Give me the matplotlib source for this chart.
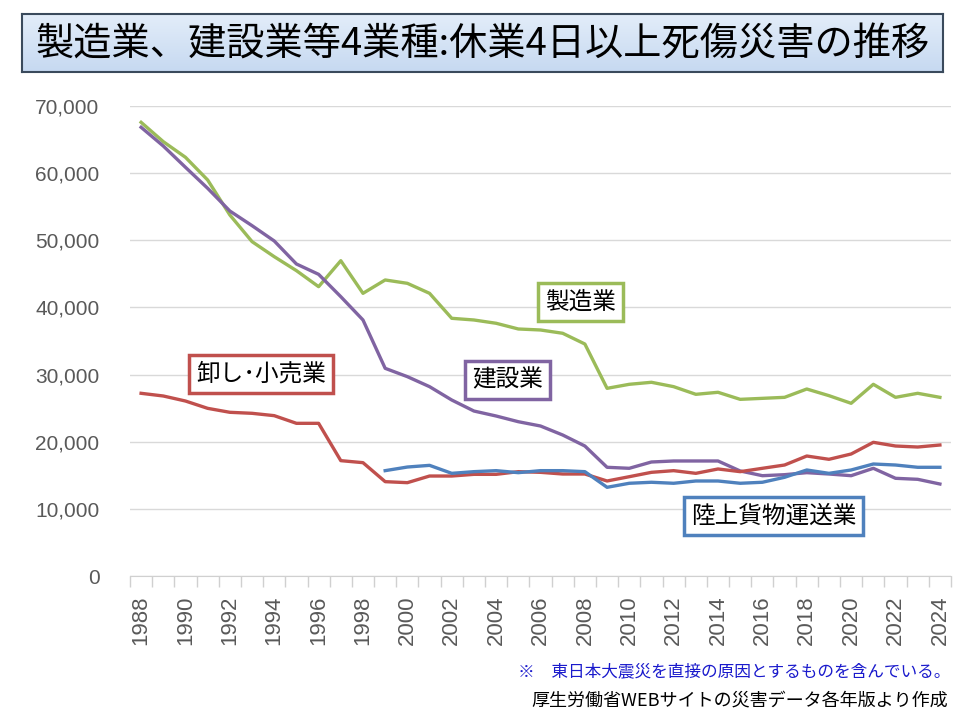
import matplotlib
matplotlib.use("Agg")
import matplotlib.pyplot as plt
import numpy as np
from matplotlib.ticker import FuncFormatter, FixedLocator
from matplotlib.colors import LinearSegmentedColormap

plt.rcParams['font.family'] = ['Noto Sans CJK JP', 'DejaVu Sans']

years = list(range(1988, 2025))
manufacturing = [67570, 64690, 62360, 58980, 53770, 49800, 47560, 45480, 43090, 46960,
                 42100, 44090, 43590, 42100, 38380, 38130, 37640, 36790, 36640, 36150,
                 34550, 27950, 28550, 28850, 28200, 27060, 27360, 26310, 26460, 26610,
                 27850, 26860, 25720, 28550, 26610, 27210, 26610]
construction = [66830, 64040, 60870, 57740, 54360, 52180, 49900, 46470, 44930, 41600,
                38130, 30930, 29690, 28200, 26210, 24570, 23830, 22980, 22340, 21000,
                19360, 16190, 16040, 16980, 17130, 17130, 17130, 15640, 14940, 15090,
                15390, 15190, 14940, 16040, 14550, 14400, 13700]
retail = [27210, 26810, 26060, 24970, 24380, 24230, 23880, 22740, 22740, 17180,
          16880, 14050, 13900, 14890, 14890, 15140, 15140, 15540, 15440, 15190,
          15190, 14150, 14790, 15440, 15690, 15290, 15940, 15540, 16040, 16530,
          17870, 17380, 18170, 19910, 19360, 19210, 19510]
transport = [np.nan] * 11 + [15690, 16230, 16480, 15290, 15540, 15690, 15390, 15690, 15690,
                             15540, 13210, 13810, 13960, 13810, 14150, 14150, 13810, 13960,
                             14700, 15790, 15290, 15790, 16680, 16530, 16190, 16190]

series_names = ['製造業', '建設業', '卸し･小売業', '陸上貨物運送業']
colors = ['#9bbb59', '#8064a2', '#c0504d', '#4f81bd']
title = '製造業、建設業等4業種:休業4日以上死傷災害の推移'
note1 = '※　東日本大震災を直接の原因とするものを含んでいる。'
note2 = '厚生労働省WEBサイトの災害データ各年版より作成'

fig = plt.figure(figsize=(9.6, 7.2), dpi=100)

# title box with gradient
tax = fig.add_axes([22/960, 1-72/720, 921/960, 58/720])
grad = np.linspace(0, 1, 100).reshape(-1, 1)
cmap = LinearSegmentedColormap.from_list('g', ['#e3edf9', '#c6d9f1'])
tax.imshow(grad, aspect='auto', cmap=cmap, extent=[0, 1, 0, 1], origin='upper')
tax.set_xlim(0, 1); tax.set_ylim(0, 1)
tax.set_xticks([]); tax.set_yticks([])
for s in tax.spines.values():
    s.set_color('#3a4a5c'); s.set_linewidth(1.5)
tax.text(0.5, 0.47, title, ha='center', va='center', fontsize=27.5, color='black')

ax = fig.add_axes([130/960, 0.2, 821/960, (576-106)/720])
series = [manufacturing, construction, retail, transport]
for vals, c in zip(series, colors):
    ax.plot(years, vals, color=c, lw=2.4, solid_joinstyle='round', zorder=3)

ax.set_xlim(1987.5, 2024.5)
ax.set_ylim(0, 70000)
ax.set_yticks(range(0, 70001, 10000))
ax.yaxis.set_major_formatter(FuncFormatter(lambda v, p: f'{int(v):,}'))
ax.grid(axis='y', color='#d9d9d9', lw=1)
ax.set_axisbelow(True)
for side in ['left', 'right', 'top']:
    ax.spines[side].set_visible(False)
ax.spines['bottom'].set_color('#d0d0d0')
ax.tick_params(axis='y', length=0, pad=22, labelsize=15, labelcolor='#595959')
for lab in ax.get_yticklabels():
    lab.set_family(['Liberation Sans', 'DejaVu Sans'])

ax.set_xticks(years[::2])
ax.set_xticklabels([str(y) for y in years[::2]], rotation=90, fontsize=16,
                   color='#595959', family=['Liberation Sans', 'DejaVu Sans'])
ax.tick_params(axis='x', which='major', length=0, pad=14)
ax.xaxis.set_minor_locator(FixedLocator([y - 0.5 for y in years] + [years[-1] + 0.5]))
ax.tick_params(axis='x', which='minor', length=8, color='#d0d0d0', width=1)

label_pos = [(2007.8, 40810), (2004.5, 29190), (1993.4, 30090), (2016.5, 8940)]
for name, c, (lx, ly) in zip(series_names, colors, label_pos):
    ax.text(lx, ly, name, ha='center', va='center', fontsize=17, color='black', zorder=5,
            bbox=dict(boxstyle='square,pad=0.3', fc='white', ec=c, lw=2.5))

fig.text(950/960, 1-672/720, note1, ha='right', va='center', fontsize=12, color='#1a1acc')
fig.text(948/960, 1-700/720, note2, ha='right', va='center', fontsize=13, color='black')

fig.savefig('out.png', dpi=100, facecolor='white')
